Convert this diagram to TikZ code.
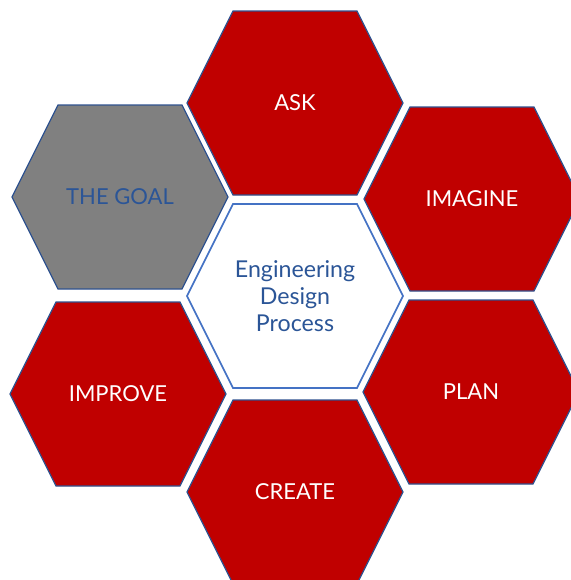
\documentclass[tikz,border=0pt]{standalone}
\usepackage{fontspec}
\setmainfont{Lato}
\usepackage{tikz}
\usetikzlibrary{positioning}
\definecolor{edpred}{HTML}{C00000}
\definecolor{edpgray}{HTML}{808080}
\definecolor{edpline}{HTML}{2F528F}
\definecolor{edpedge}{HTML}{4472C4}
\definecolor{edptext}{HTML}{2B5597}

\begin{document}
\begin{tikzpicture}[x=0.5pt, y=-0.5pt,
  hexlabel/.style={font=\fontsize{11}{13.3}\selectfont, align=center}]

\useasboundingbox (0,0) rectangle (571,580);
\clip (0,0) rectangle (571,580);

% Red cells of the process, round the centre
\foreach \cx/\cy/\name/\lab in {295/103/ask/ASK, 472/199/imagine/IMAGINE, 471/392/plan/PLAN, 295/492/create/CREATE, 118/394/improve/IMPROVE} {
  \filldraw[fill=edpred, draw=edpline, line width=0.6pt] (\cx-108,\cy) -- (\cx-62,\cy-92) -- (\cx+62,\cy-92) -- (\cx+108,\cy) -- (\cx+62,\cy+92) -- (\cx-62,\cy+92) -- cycle;
  \node[hexlabel, white] (\name) at (\cx,\cy) {\lab};
}

% The goal (gray cell)
\filldraw[fill=edpgray, draw=edpline, line width=0.6pt] (12,197) -- (58,105) -- (182,105) -- (228,197) -- (182,289) -- (58,289) -- cycle;
\node[hexlabel, edptext] (goal) at (120,197) {THE GOAL};

% Centre cell
\filldraw[fill=white, draw=edpedge, line width=0.8pt] (187,296) -- (233,204) -- (357,204) -- (403,296) -- (357,388) -- (233,388) -- cycle;
\node[hexlabel, edptext, font=\fontsize{11.6}{13.4}\selectfont] (centre) at (295,296) {Engineering\\Design\\Process};

\end{tikzpicture}
\end{document}
